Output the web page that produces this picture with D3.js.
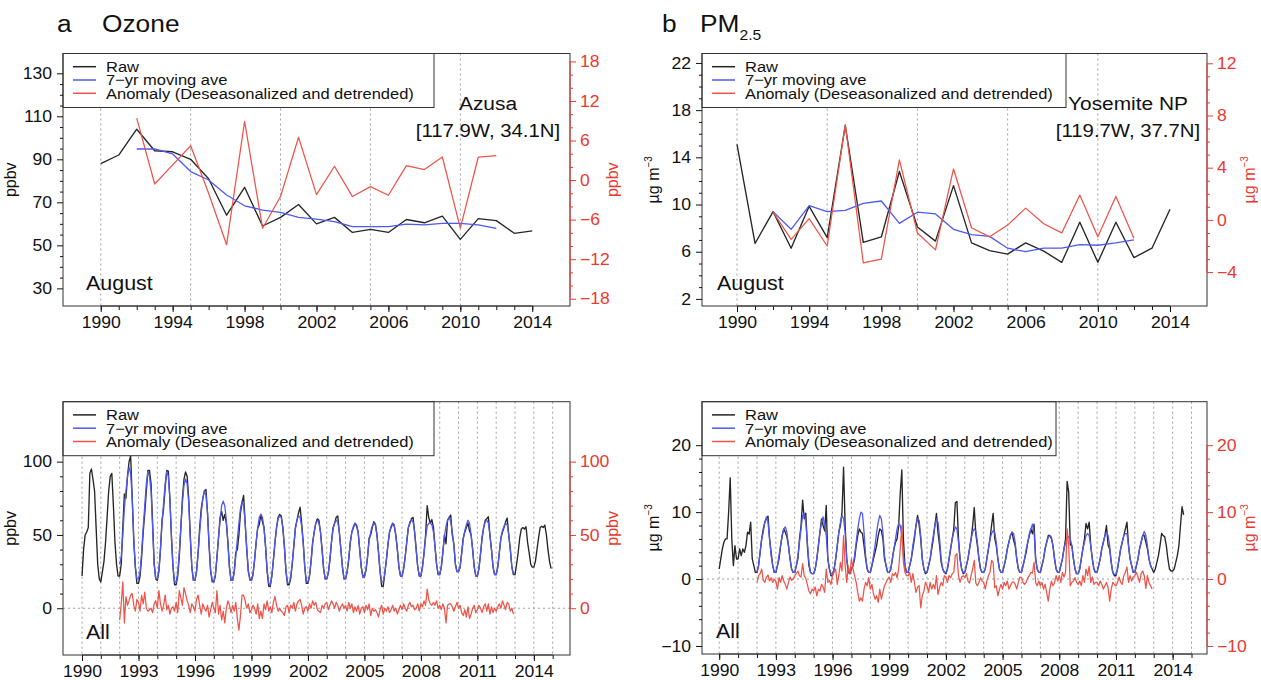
<!DOCTYPE html>
<html>
<head>
<meta charset="utf-8">
<script src="https://cdn.jsdelivr.net/npm/d3@7"></script>
<style>
  html, body { margin: 0; padding: 0; background: #fff; }
  svg { display: block; font-family: "Liberation Sans", Arial, Helvetica, sans-serif; }
</style>
</head>
<body>
<svg id="chart" width="1261" height="680"></svg>
<script>
// ---------------- August means (one value per year) ----------------
const augYears = [1990, 1991, 1992, 1993, 1994, 1995, 1996, 1997, 1998, 1999, 2000, 2001, 2002,
                  2003, 2004, 2005, 2006, 2007, 2008, 2009, 2010, 2011, 2012, 2013, 2014];
const aveYears = [1992, 1993, 1994, 1995, 1996, 1997, 1998, 1999, 2000, 2001, 2002,
                  2003, 2004, 2005, 2006, 2007, 2008, 2009, 2010, 2011, 2012];

// Ozone, Azusa (ppbv)
const o3AugRaw  = [88, 92, 104, 94, 93.5, 90, 81, 64, 77, 59, 63, 69, 60, 63, 56, 57.4, 56, 62, 60.5, 63.6, 52.8, 62.4, 61.5, 55.6, 56.7];
const o3AugAve  = [94.8, 94.8, 92.5, 84.3, 80.4, 73.4, 68.4, 66.4, 65.3, 63, 62.2, 61, 58.7, 58.7, 58.7, 59.9, 59.5, 60.2, 60.2, 59.5, 57.9];
const o3AugAnom = [9.4, -0.6, 2.3, 5.2, -2, -9.8, 8.9, -7.3, -2.5, 6.5, -2.2, 2.1, -2.5, -1.0, -2.3, 2.2, 1.6, 3.5, -7.3, 3.5, 3.7];

// PM2.5, Yosemite NP (ug m-3)
const pmAugRaw  = [15.1, 6.7, 9.4, 6.3, 9.85, 7.2, 16.7, 6.8, 7.25, 12.8, 8.1, 6.9, 11.6, 6.75, 6.1, 5.8, 6.75, 6.05, 5.1, 8.5, 5.1, 8.5, 5.5, 6.3, 9.6];
const pmAugAve  = [9.4, 7.9, 9.9, 9.4, 9.5, 10.1, 10.3, 8.4, 9.35, 9.2, 7.9, 7.45, 7.3, 6.3, 6.0, 6.3, 6.3, 6.6, 6.55, 6.75, 7.0];
const pmAugAnom = [0.6, -1.5, 0.1, -2.0, 7.3, -3.3, -3.0, 4.6, -1.0, -2.3, 3.9, -0.6, -1.3, -0.4, 0.9, -0.3, -1.0, 1.9, -1.3, 1.8, -1.4];

// ---------------- Monthly series (rows = years, Jan..Dec) ----------------
const monRawStart = 1990;
const monAveStart = 1992;

// Ozone raw, 1990-2014
const o3MonRaw = [
  [22, 40, 50, 52, 55, 92, 95, 88, 80, 55, 30, 20],
  [18, 25, 32, 45, 62, 80, 90, 92, 70, 45, 30, 22],
  [22, 30, 55, 78, 75, 90, 100, 104, 75, 45, 28, 17],
  [17, 22, 35, 52, 65, 80, 94, 94, 85, 58, 30, 20],
  [19, 25, 40, 60, 68, 82, 94, 93.5, 75, 48, 28, 16],
  [16, 22, 35, 55, 75, 88, 93, 90, 75, 50, 28, 19],
  [19, 25, 38, 55, 68, 75, 80, 81, 65, 42, 25, 18],
  [18, 22, 35, 48, 62, 66, 60, 64, 58, 45, 28, 19],
  [19, 25, 38, 40, 50, 65, 72, 77, 58, 40, 25, 20],
  [19, 23, 33, 45, 55, 57, 64, 59, 55, 42, 25, 15],
  [15, 22, 33, 45, 55, 62, 64, 63, 55, 42, 25, 16],
  [16, 20, 30, 42, 55, 60, 65, 69, 58, 45, 28, 17],
  [17, 22, 32, 45, 52, 58, 61, 60, 52, 40, 27, 20],
  [20, 24, 33, 45, 55, 58, 62, 63, 52, 40, 28, 20],
  [20, 25, 33, 45, 52, 55, 58, 56, 52, 40, 28, 22],
  [22, 26, 35, 48, 50, 55, 59, 57.4, 50, 38, 25, 15],
  [15, 24, 33, 43, 52, 55, 58, 56, 50, 40, 28, 22],
  [22, 27, 35, 45, 55, 58, 61, 62, 52, 40, 28, 22],
  [22, 28, 38, 50, 70, 62, 58, 60.5, 55, 42, 30, 23],
  [23, 28, 38, 50, 44, 60, 62, 63.6, 50, 44, 30, 25],
  [25, 28, 38, 48, 52, 55, 58, 52.8, 50, 40, 28, 22],
  [22, 27, 37, 48, 55, 60, 61, 62.4, 50, 40, 28, 23],
  [23, 28, 38, 48, 52, 55, 59, 61.5, 50, 40, 28, 23],
  [23, 30, 38, 48, 54, 55, 54, 55.6, 45, 38, 30, 28],
  [28, 32, 40, 48, 55, 56, 55, 56.7, 50, 40, 32, 27]
];
// Ozone 7-yr moving average, 1992-2012
const o3MonAve = [
  [30, 35, 50, 68, 80, 90, 96, 92, 75, 48, 28, 20],
  [20, 25, 38, 55, 70, 85, 93, 90, 80, 55, 30, 20],
  [20, 26, 40, 58, 72, 85, 93, 90, 75, 50, 28, 18],
  [18, 24, 38, 55, 72, 84, 88, 85, 72, 48, 28, 19],
  [19, 25, 37, 52, 65, 75, 80, 77, 65, 44, 26, 19],
  [18, 23, 34, 48, 60, 70, 73, 70, 60, 44, 27, 19],
  [19, 24, 35, 47, 58, 68, 73, 70, 58, 41, 26, 19],
  [19, 23, 33, 45, 55, 62, 64, 62, 55, 42, 26, 17],
  [16, 22, 33, 45, 55, 61, 63, 62, 55, 42, 26, 17],
  [17, 21, 31, 43, 54, 60, 63, 62, 56, 44, 28, 18],
  [18, 22, 32, 44, 52, 58, 60, 58, 52, 40, 27, 20],
  [20, 24, 33, 45, 54, 58, 60, 59, 52, 40, 28, 20],
  [20, 25, 34, 45, 52, 56, 58, 57, 52, 40, 28, 21],
  [21, 26, 35, 46, 52, 56, 58, 57, 50, 38, 25, 18],
  [18, 24, 33, 44, 52, 56, 58, 57, 50, 40, 28, 22],
  [22, 27, 35, 46, 55, 59, 60, 59, 52, 40, 28, 22],
  [22, 28, 37, 48, 56, 58, 58, 57, 52, 42, 30, 23],
  [23, 28, 38, 49, 56, 60, 62, 59, 52, 43, 30, 25],
  [25, 28, 37, 47, 53, 57, 60, 58, 50, 40, 28, 22],
  [22, 27, 37, 48, 55, 59, 60, 58, 50, 40, 28, 23],
  [23, 28, 38, 48, 53, 56, 58, 57, 50, 40, 28, 23]
];
// Ozone anomaly, 1992-2012
const o3MonAnom = [
  [-8, 3, 18, -10, 8, 2, 5, 9, 10, 2, -2, 6],
  [4, -2, 9, 3, 11, 0, -2, -1, 0, -3, 3, 5],
  [0, 12, 3, -2, 2, 9, -1, 2, -4, 0, 1, -2],
  [4, -3, 12, 7, 2, 14, 10, 5, 2, -3, 3, 1],
  [-2, 6, 9, 2, -4, 3, 0, -2, 2, -6, -1, 4],
  [0, -3, 12, -4, 2, -8, -2, -10, 0, 5, 2, -3],
  [2, -2, 4, -7, -15, -5, 9, 9, 5, 0, 3, -3],
  [-1, 2, 0, -4, 3, -7, -2, -7, 3, -1, 5, -2],
  [1, -3, 4, 8, 2, -2, 0, -2, -3, -5, 1, 2],
  [-3, 2, 0, 4, -2, 3, 5, 6, 2, -4, 0, 1],
  [-2, 3, 0, 5, 2, 4, -1, -2, -3, 2, 0, 3],
  [4, -1, 2, 5, 3, 0, 4, 2, -2, 1, 3, 0],
  [2, -2, 4, 0, 3, -3, 1, -2, 2, -4, 0, 1],
  [-3, 2, -1, 3, -5, 0, -2, -1, -3, -6, -1, 2],
  [-4, 0, -2, 1, -3, -1, 2, -2, 0, -4, -1, 2],
  [-1, 3, 0, -2, 2, 4, 1, 2, -1, 0, 3, -2],
  [3, 1, 5, 2, 13, 6, 3, 2, 4, 2, 5, 0],
  [2, -1, 3, 0, -10, 2, 3, 3, 1, -2, 1, 4],
  [0, 2, -3, -5, -1, -6, 1, -7, -4, 0, 2, -3],
  [-1, 2, 0, -3, 1, 3, -2, 3, -4, 1, -3, 0],
  [-2, 1, 3, 0, 5, 2, -1, 4, 3, -2, 0, -4]
];

// PM2.5 raw, 1990 - Aug 2014
const pmMonRaw = [
  [1.5, 3, 4.5, 5.5, 6, 6, 10, 15.1, 6, 2, 5, 3],
  [3, 4.5, 3.5, 4.5, 4, 5, 7, 6.7, 8.5, 3, 2, 1],
  [1, 2, 4, 6, 7.5, 8.5, 9, 9.4, 6, 4, 2, 1],
  [1, 2, 3, 5, 6.5, 7.5, 7, 6.3, 5, 3, 1.5, 1],
  [1, 2, 3, 6, 8, 11.8, 9, 9.85, 5, 2, 1, 0.8],
  [0.8, 1.5, 3, 5, 7, 9, 8, 7.2, 11, 3, 1.5, 0.5],
  [0.5, 1.5, 3, 5, 7, 8, 10, 16.7, 8, 3, 1, 0.8],
  [1.5, 2, 3, 5, 6.5, 7.5, 7, 6.8, 5, 3, 1.5, 1],
  [1, 2, 3, 4, 5, 6.5, 7.5, 7.25, 6, 3, 2, 1],
  [1, 1.5, 3, 4.5, 5.5, 6, 8, 12.8, 16.3, 6, 2, 1],
  [1, 2, 3, 4.5, 6, 8, 9.5, 8.1, 6, 3, 1.5, 0.8],
  [1, 2, 3, 4.5, 6, 8, 9.8, 6.9, 5, 2.5, 1.5, 1],
  [0.8, 1.5, 3, 4.5, 6, 7.5, 11.4, 11.6, 6, 3, 1.5, 0.8],
  [1, 2, 3, 4.5, 6, 8, 10.7, 6.75, 5, 3, 1.5, 1],
  [1, 1.5, 3, 4.5, 6, 8, 9.8, 6.1, 5, 3, 1.5, 1],
  [1, 2, 3, 4.5, 5.5, 6.5, 7, 5.8, 5, 3, 1.5, 1],
  [1, 2, 3, 4, 5.5, 6.5, 7.5, 6.75, 8.2, 3, 1.5, 1],
  [1, 2, 3, 4.5, 5.5, 6.5, 6.5, 6.05, 5, 3, 1.5, 1],
  [1, 2, 3, 4.5, 6, 14.6, 13, 5.1, 5, 3, 1.5, 0.8],
  [0.8, 1.5, 3, 4.5, 6, 8.3, 7.5, 8.5, 5, 3, 1.5, 1],
  [1, 2, 3, 4.5, 5.5, 6.5, 8, 5.1, 4.5, 2.5, 1, 0.5],
  [0.5, 1.5, 3, 4.5, 5.5, 6.5, 7.5, 8.5, 5, 3, 2, 1],
  [1, 2, 3, 4.5, 5.5, 6.5, 6.5, 5.5, 4.5, 3, 2, 1.5],
  [1, 1.5, 2.5, 3.5, 5, 6.8, 6.5, 6.3, 5, 3, 1.5, 1.2],
  [1.2, 1.5, 2.5, 3.5, 5, 8, 10.8, 9.6]
];
// PM2.5 7-yr moving average, 1992-2012
const pmMonAve = [
  [1, 2, 4, 6, 7, 8.5, 9.3, 8.5, 6, 3.5, 2, 1],
  [1, 2, 3.5, 5, 6.5, 7.5, 7.8, 7, 5, 3, 1.5, 1],
  [1, 2, 3.5, 5.5, 7.5, 9.5, 9.8, 8.5, 5.5, 2.5, 1, 0.8],
  [0.8, 1.5, 3, 5, 7, 8.5, 9.3, 8, 6.5, 3, 1.5, 0.8],
  [0.8, 1.5, 3, 5, 7, 8.5, 9.5, 9, 7, 3, 1.5, 1],
  [1.5, 2, 3.5, 5.5, 7.5, 9, 10, 9.8, 7, 3.5, 1.5, 1],
  [1, 2, 3.5, 5, 7, 8.5, 9.5, 9, 7, 3.5, 2, 1],
  [1, 1.5, 3, 4.5, 6, 7.5, 8.3, 8, 6.5, 3.5, 2, 1],
  [1, 2, 3, 5, 6.5, 8, 9, 8.8, 6.5, 3, 1.5, 1],
  [1, 2, 3, 5, 6.5, 8, 9, 8.5, 6, 3, 1.5, 1],
  [1, 1.5, 3, 4.5, 6, 7, 7.8, 7.5, 5.5, 3, 1.5, 1],
  [1, 2, 3, 4.5, 6, 7, 7.5, 7.2, 5.5, 3, 1.5, 1],
  [1, 1.5, 3, 4.5, 6, 6.8, 7.2, 7, 5.5, 3, 1.5, 1],
  [1, 2, 3, 4.5, 5.5, 6.5, 7, 6.8, 5.5, 3, 1.5, 1],
  [1, 2, 3, 4.5, 5.5, 6.8, 7.5, 8.2, 7, 3, 1.5, 1],
  [1, 2, 3, 4.5, 5.5, 6.2, 6.5, 6.3, 5, 3, 1.5, 1],
  [1, 2, 3, 4.5, 5.5, 6.3, 6.3, 6, 5, 3, 1.5, 0.8],
  [0.8, 1.5, 3, 4.5, 5.5, 6.5, 6.8, 6.5, 5, 3, 1.5, 1],
  [1, 2, 3, 4.5, 5.5, 6.5, 7, 6.5, 5, 2.5, 1, 0.7],
  [0.7, 1.5, 3, 4.5, 5.5, 6.5, 6.8, 6.8, 5, 3, 2, 1],
  [1, 2, 3, 4.5, 5.5, 6.5, 7.1, 6.5, 5, 3, 2, 1.5]
];
// PM2.5 anomaly, 1992-2012
const pmMonAnom = [
  [-0.5, 0.5, 0.8, 1.5, -0.2, -0.5, 0.3, 0.6, -0.3, 0.2, -0.5, 0],
  [-0.3, -1.5, 0.2, -0.5, 0.5, -0.3, -0.8, -1.5, -0.5, 0.3, -0.2, 0],
  [0.5, 0.8, 1.2, 0.5, 0.3, 2.3, 0.5, 0.1, -0.8, -1.8, -2.2, -1.5],
  [-1.8, -1.2, -2.5, -1.5, -1.8, -0.8, -1.2, -2.0, 1.5, -0.5, -0.2, -0.8],
  [0.5, 1.0, 1.5, -0.8, 0.5, 2.5, 1.2, 6.5, 2.0, -0.5, 1.8, 0.8],
  [3.0, 1.5, 0.5, -0.5, -2.0, -3.3, -2.8, -3.3, -1.5, -0.5, -1.0, 0.2],
  [-1.5, -0.8, -2.2, -3.0, -2.5, -3.5, -1.5, -3.0, -2.0, -1.0, -0.5, 0],
  [0.3, -0.5, 0.8, 0.5, 1.0, 0.2, 1.5, 4.5, 8.0, 2.5, 1.0, 0.5],
  [0.5, 1.0, -0.5, 0.8, -0.5, -2.0, -1.2, -1.0, -4.3, -2.5, -1.8, -0.5],
  [-1.0, -2.0, -0.5, -1.5, -0.8, -1.5, 0.5, -2.3, -1.2, -0.5, -1.0, 0.5],
  [0.3, -0.5, 0.5, 0.2, 0.8, 1.0, 3.5, 3.8, 0.5, -0.5, 0.3, 0.5],
  [0.2, 0.8, -0.3, -0.6, 0.5, 1.5, 2.8, -0.6, -1.0, -0.5, 0.2, -0.3],
  [-0.5, -1.5, -0.3, 0.5, 1.0, 2.8, 2.5, -1.3, -1.0, -2.5, -1.5, -0.8],
  [-1.5, -0.5, -1.0, -0.3, -1.5, -1.0, -0.5, -0.4, -0.8, -1.5, -0.5, 0.3],
  [0.2, -0.5, -0.8, -0.5, 0.2, 0.5, 1.0, 0.9, 2.5, -0.5, -1.0, -0.3],
  [-1.0, -0.5, -1.5, -0.8, -2.0, -3.3, -1.5, -0.3, -1.0, -0.5, 0.5, -0.3],
  [0.5, -0.5, 1.0, 0.3, 1.0, 7.5, 5.0, -1.0, -0.5, -0.3, 0.2, -0.5],
  [-0.8, -0.3, -1.0, 0.5, -0.5, 1.5, 0.5, 1.9, -0.5, 0.3, -0.8, -0.5],
  [-0.5, -1.0, -0.3, -0.8, -1.5, -1.0, -0.5, -1.3, -3.3, -1.5, -0.5, -0.8],
  [-1.0, -0.5, 0.3, -0.5, -0.8, 0.5, 1.0, 1.8, -0.5, 0.5, -0.3, 0.3],
  [0.5, 1.0, 0.3, -0.5, 0.8, 1.2, 0.5, -1.4, 0.5, -0.5, -1.0, -1.5]
];

// ---------------- Tick values ----------------
const topYearTicks    = [1990, 1994, 1998, 2002, 2006, 2010, 2014];
const topYearMinor    = augYears;
const topYearGrid     = [1990, 1995, 2000, 2005, 2010];
const bottomYearTicks = [1990, 1993, 1996, 1999, 2002, 2005, 2008, 2011, 2014];
const bottomYearGrid  = [1990, 1991, 1992, 1993, 1994, 1995, 1996, 1997, 1998, 1999, 2000, 2001, 2002,
                         2003, 2004, 2005, 2006, 2007, 2008, 2009, 2010, 2011, 2012, 2013, 2014, 2015];

const o3TopLeftTicks  = [30, 50, 70, 90, 110, 130];
const o3TopLeftMinor  = [35, 40, 45, 55, 60, 65, 75, 80, 85, 95, 100, 105, 115, 120, 125];
const o3TopRightTicks = [-18, -12, -6, 0, 6, 12, 18];
const o3TopRightMinor = [-16, -14, -10, -8, -4, -2, 2, 4, 8, 10, 14, 16];
const pmTopLeftTicks  = [2, 6, 10, 14, 18, 22];
const pmTopLeftMinor  = [3, 4, 5, 7, 8, 9, 11, 12, 13, 15, 16, 17, 19, 20, 21];
const pmTopRightTicks = [-4, 0, 4, 8, 12];
const pmTopRightMinor = [-3, -2, -1, 1, 2, 3, 5, 6, 7, 9, 10, 11];
const o3BotTicks      = [0, 50, 100];
const o3BotMinor      = [10, 20, 30, 40, 60, 70, 80, 90];
const pmBotTicks      = [-10, 0, 10, 20];
const pmBotMinor      = [-8, -6, -4, -2, 2, 4, 6, 8, 12, 14, 16, 18];

const legendLabels = ["Raw", "7\u2212yr moving ave", "Anomaly (Deseasonalized and detrended)"];

// ---------------- Styles ----------------
const COL_RAW = "#262626";
const COL_AVE = "#5058f2";
const COL_ANOM = "#ee5449";
const COL_AXIS_R = "#ea3a30";
const STRETCH = 1.1;

const svg = d3.select("#chart");

function addText(parent, x, y, str, o = {}) {
  const sx = o.sx === undefined ? STRETCH : o.sx;
  return parent.append("text")
    .attr("transform", `translate(${x},${y}) rotate(${o.rotate || 0}) scale(${sx},1)`)
    .attr("text-anchor", o.anchor || "start")
    .attr("font-size", o.size || 15)
    .attr("fill", o.fill || "#111")
    .text(str);
}

function unitLabel(parent, x, y, fill) {
  const t = parent.append("text")
    .attr("transform", `translate(${x},${y}) rotate(-90)`)
    .attr("text-anchor", "middle")
    .attr("font-size", 16)
    .attr("fill", fill);
  t.append("tspan").text("\u00b5g m");
  t.append("tspan").attr("dy", -7).attr("font-size", 10).text("\u22123");
  return t;
}

// annual series -> points
function annual(years, vals) { return years.map((y, i) => [y, vals[i]]); }
// monthly rows -> points at year + month/12
function monthly(startYear, rows) {
  const pts = [];
  rows.forEach((row, r) => row.forEach((v, m) => pts.push([startYear + r + m / 12, v])));
  return pts;
}

function drawPanel(cfg) {
  const g = svg.append("g");
  const x = d3.scaleLinear().domain(cfg.xDomain).range([cfg.left, cfg.right]);
  const yL = d3.scaleLinear().domain(cfg.yLeftDomain).range([cfg.bottom, cfg.top]);
  const yR = d3.scaleLinear().domain(cfg.yRightDomain).range([cfg.bottom, cfg.top]);

  const clipId = "clip" + cfg.id;
  g.append("clipPath").attr("id", clipId).append("rect")
    .attr("x", cfg.left).attr("y", cfg.top)
    .attr("width", cfg.right - cfg.left).attr("height", cfg.bottom - cfg.top);
  const plot = g.append("g").attr("clip-path", `url(#${clipId})`);

  // dotted reference lines
  plot.selectAll("line.vgrid").data(cfg.vGrid).join("line")
    .attr("x1", d => x(d)).attr("x2", d => x(d))
    .attr("y1", cfg.top).attr("y2", cfg.bottom)
    .attr("stroke", "#a0a0a0").attr("stroke-width", 1).attr("stroke-dasharray", "2,3");
  if (cfg.zeroLine) {
    plot.append("line")
      .attr("x1", cfg.left).attr("x2", cfg.right)
      .attr("y1", yL(0)).attr("y2", yL(0))
      .attr("stroke", "#a0a0a0").attr("stroke-width", 1).attr("stroke-dasharray", "2,3");
  }

  const lineL = d3.line().x(d => x(d[0])).y(d => yL(d[1]));
  const lineR = d3.line().x(d => x(d[0])).y(d => yR(d[1]));
  plot.append("path").attr("d", lineL(cfg.raw)).attr("fill", "none")
    .attr("stroke", COL_RAW).attr("stroke-width", 1.35).attr("stroke-linejoin", "round");
  plot.append("path").attr("d", lineL(cfg.ave)).attr("fill", "none")
    .attr("stroke", COL_AVE).attr("stroke-width", 1.3).attr("stroke-linejoin", "round");
  plot.append("path").attr("d", lineR(cfg.anom)).attr("fill", "none")
    .attr("stroke", COL_ANOM).attr("stroke-width", 1.25).attr("stroke-linejoin", "round");

  // legend
  const lg = g.append("g");
  lg.append("rect")
    .attr("x", cfg.left).attr("y", cfg.top)
    .attr("width", cfg.legendRight - cfg.left).attr("height", 54)
    .attr("fill", "#fff").attr("stroke", "#333").attr("stroke-width", 1);
  [COL_RAW, COL_AVE, COL_ANOM].forEach((c, i) => {
    const yy = cfg.top + 13.2 + i * 13.3;
    lg.append("line")
      .attr("x1", cfg.left + 10).attr("x2", cfg.left + 33)
      .attr("y1", yy).attr("y2", yy)
      .attr("stroke", c).attr("stroke-width", 1.5);
    addText(lg, cfg.left + 43, yy + 5.3, legendLabels[i], { size: 15 });
  });

  // frame
  g.append("rect")
    .attr("x", cfg.left).attr("y", cfg.top)
    .attr("width", cfg.right - cfg.left).attr("height", cfg.bottom - cfg.top)
    .attr("fill", "none").attr("stroke", "#333").attr("stroke-width", 1);

  // axes
  function styleAxis(ax, color, stretch) {
    ax.select(".domain").remove();
    ax.selectAll("line").attr("stroke", color);
    ax.selectAll("text").attr("fill", color).attr("font-size", 16)
      .attr("font-family", "Liberation Sans, Arial, Helvetica, sans-serif");
    if (stretch) ax.selectAll("text").attr("transform", `scale(${STRETCH},1)`);
  }
  // bottom
  const axB = g.append("g").attr("transform", `translate(0,${cfg.bottom})`)
    .call(d3.axisBottom(x).tickValues(cfg.xTicks).tickFormat(d3.format("d"))
      .tickSize(6).tickPadding(5).tickSizeOuter(0));
  styleAxis(axB, "#111", true);
  const axBm = g.append("g").attr("transform", `translate(0,${cfg.bottom})`)
    .call(d3.axisBottom(x).tickValues(cfg.xMinor).tickFormat("").tickSize(4).tickSizeOuter(0));
  styleAxis(axBm, "#111", false);
  g.append("line").attr("x1", x(d3.min(cfg.xMinor))).attr("x2", x(d3.max(cfg.xMinor)))
    .attr("y1", cfg.bottom).attr("y2", cfg.bottom).attr("stroke", "#333");

  // left
  const axL = g.append("g").attr("transform", `translate(${cfg.left},0)`)
    .call(d3.axisLeft(yL).tickValues(cfg.yLeftTicks).tickSize(6).tickPadding(4).tickSizeOuter(0));
  styleAxis(axL, "#111", true);
  const axLm = g.append("g").attr("transform", `translate(${cfg.left},0)`)
    .call(d3.axisLeft(yL).tickValues(cfg.yLeftMinor).tickFormat("").tickSize(3).tickSizeOuter(0));
  styleAxis(axLm, "#111", false);

  // right (anomaly)
  const axR = g.append("g").attr("transform", `translate(${cfg.right},0)`)
    .call(d3.axisRight(yR).tickValues(cfg.yRightTicks).tickSize(6).tickPadding(3).tickSizeOuter(0));
  styleAxis(axR, COL_AXIS_R, true);
  const axRm = g.append("g").attr("transform", `translate(${cfg.right},0)`)
    .call(d3.axisRight(yR).tickValues(cfg.yRightMinor).tickFormat("").tickSize(3).tickSizeOuter(0));
  styleAxis(axRm, COL_AXIS_R, false);
  const rAll = cfg.yRightTicks.concat(cfg.yRightMinor);
  g.append("line").attr("x1", cfg.right).attr("x2", cfg.right)
    .attr("y1", yR(d3.min(rAll))).attr("y2", yR(d3.max(rAll)))
    .attr("stroke", COL_AXIS_R).attr("stroke-width", 1);

  // axis titles
  if (cfg.unit === "ppbv") {
    addText(g, cfg.left - 47, (cfg.top + cfg.bottom) / 2, "ppbv", { size: 16, anchor: "middle", rotate: -90, sx: 1 });
    addText(g, cfg.right + 48, (cfg.top + cfg.bottom) / 2, "ppbv", { size: 16, anchor: "middle", rotate: -90, sx: 1, fill: COL_AXIS_R });
  } else {
    unitLabel(g, cfg.left - 43, (cfg.top + cfg.bottom) / 2, "#111");
    unitLabel(g, cfg.right + 48, (cfg.top + cfg.bottom) / 2, COL_AXIS_R);
  }

  // annotations
  addText(g, cfg.noteX, cfg.bottom - 16, cfg.note, { size: 19.5 });
  if (cfg.site) {
    addText(g, cfg.siteX, 110, cfg.site, { size: 19, anchor: "middle" });
    addText(g, cfg.siteX, 137, cfg.coords, { size: 18.5, anchor: "middle" });
  }
}

// ---------------- Panels ----------------
drawPanel({
  id: "o3aug", unit: "ppbv",
  left: 63, right: 570, top: 53.5, bottom: 306, legendRight: 434,
  xDomain: [1987.9, 2016.1], yLeftDomain: [21.8, 139.2], yRightDomain: [-19.1, 19.2],
  xTicks: topYearTicks, xMinor: topYearMinor, vGrid: topYearGrid, zeroLine: false,
  yLeftTicks: o3TopLeftTicks, yLeftMinor: o3TopLeftMinor,
  yRightTicks: o3TopRightTicks, yRightMinor: o3TopRightMinor,
  raw: annual(augYears, o3AugRaw), ave: annual(aveYears, o3AugAve), anom: annual(aveYears, o3AugAnom),
  note: "August", noteX: 86, site: "Azusa", coords: "[117.9W, 34.1N]", siteX: 488
});

drawPanel({
  id: "pmaug", unit: "ugm3",
  left: 702, right: 1207, top: 53.5, bottom: 306, legendRight: 1066,
  xDomain: [1988.06, 2016.05], yLeftDomain: [1.4, 22.8], yRightDomain: [-6.6, 12.75],
  xTicks: topYearTicks, xMinor: topYearMinor, vGrid: topYearGrid, zeroLine: false,
  yLeftTicks: pmTopLeftTicks, yLeftMinor: pmTopLeftMinor,
  yRightTicks: pmTopRightTicks, yRightMinor: pmTopRightMinor,
  raw: annual(augYears, pmAugRaw), ave: annual(aveYears, pmAugAve), anom: annual(aveYears, pmAugAnom),
  note: "August", noteX: 717, site: "Yosemite NP", coords: "[119.7W, 37.7N]", siteX: 1128
});

drawPanel({
  id: "o3all", unit: "ppbv",
  left: 63, right: 570, top: 401.7, bottom: 655, legendRight: 434,
  xDomain: [1988.99, 2015.92], yLeftDomain: [-31.9, 140.9], yRightDomain: [-31.9, 140.9],
  xTicks: bottomYearTicks, xMinor: bottomYearGrid, vGrid: bottomYearGrid, zeroLine: true,
  yLeftTicks: o3BotTicks, yLeftMinor: o3BotMinor,
  yRightTicks: o3BotTicks, yRightMinor: o3BotMinor,
  raw: monthly(monRawStart, o3MonRaw), ave: monthly(monAveStart, o3MonAve), anom: monthly(monAveStart, o3MonAnom),
  note: "All", noteX: 86
});

drawPanel({
  id: "pmall", unit: "ugm3",
  left: 702, right: 1207, top: 401.7, bottom: 654, legendRight: 1056,
  xDomain: [1989.09, 2015.82], yLeftDomain: [-11.2, 26.5], yRightDomain: [-11.2, 26.5],
  xTicks: bottomYearTicks, xMinor: bottomYearGrid, vGrid: bottomYearGrid, zeroLine: true,
  yLeftTicks: pmBotTicks, yLeftMinor: pmBotMinor,
  yRightTicks: pmBotTicks, yRightMinor: pmBotMinor,
  raw: monthly(monRawStart, pmMonRaw), ave: monthly(monAveStart, pmMonAve), anom: monthly(monAveStart, pmMonAnom),
  note: "All", noteX: 716
});

// ---------------- Panel titles ----------------
addText(svg, 57, 31.7, "a", { size: 23.5, sx: 1.12 });
addText(svg, 102, 31.7, "Ozone", { size: 23.5, sx: 1.12 });
addText(svg, 662, 31.7, "b", { size: 23.5, sx: 1.12 });
const pmTitle = addText(svg, 700, 31.7, "PM", { size: 23.5, sx: 1.12 });
pmTitle.append("tspan").attr("dy", 8).attr("font-size", 14).text("2.5");
</script>
</body>
</html>
